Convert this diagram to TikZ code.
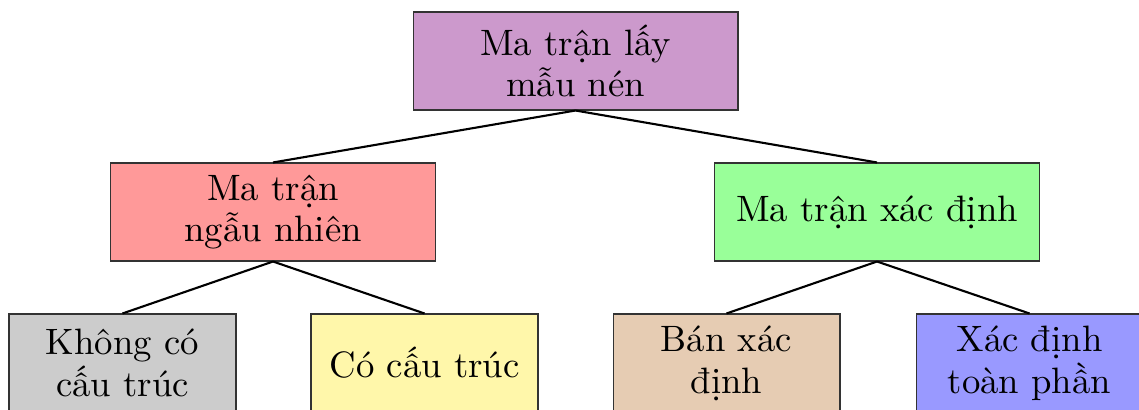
\documentclass[tikz,border=0pt]{standalone}
\usepackage{fontspec}
\usepackage{tikz}
\usepackage{xcolor}
\newfontfamily\chu{lmroman10-regular}[Extension=.otf]

\definecolor{tim}{HTML}{CC99CC}
\definecolor{hong}{HTML}{FF9999}
\definecolor{xanhla}{HTML}{99FF99}
\definecolor{xam}{HTML}{CCCCCC}
\definecolor{vang}{HTML}{FFF7AA}
\definecolor{nau}{HTML}{E6CCB3}
\definecolor{xanhduong}{HTML}{9999FF}

\begin{document}
\begin{tikzpicture}[x=0.02cm,y=-0.02cm,
    hop/.style={draw=black!80,line width=0.6pt,align=center,
        minimum width=6.5cm,minimum height=1.96cm,inner sep=0pt,
        font=\chu\fontsize{20.9}{23.8}\selectfont},
    hopnho/.style={hop,minimum width=4.54cm},
    noi/.style={line width=1.2pt}]
    \clip (0,0) rectangle (1139,409);
    \useasboundingbox (0,0) rectangle (1139,409);

    \node[hop,fill=tim] (goc) at (575.5,61) {Ma trận lấy\\mẫu nén};
    \node[hop,fill=hong] (ngaunhien) at (273,212) {Ma trận\\ngẫu nhiên};
    \node[hop,fill=xanhla] (xacdinh) at (877,212) {Ma trận xác định};

    \node[hopnho,fill=xam] (khong) at (122.5,363) {Không có\\cấu trúc};
    \node[hopnho,fill=vang] (cocau) at (424.5,363) {Có cấu trúc};
    \node[hopnho,fill=nau] (ban) at (726.5,363) {Bán xác\\định};
    \node[hopnho,fill=xanhduong] (toan) at (1029.5,363) {Xác định\\toàn phần};

    \draw[noi] (goc.south) -- (ngaunhien.north);
    \draw[noi] (goc.south) -- (xacdinh.north);
    \draw[noi] (ngaunhien.south) -- (khong.north);
    \draw[noi] (ngaunhien.south) -- (cocau.north);
    \draw[noi] (xacdinh.south) -- (ban.north);
    \draw[noi] (xacdinh.south) -- (toan.north);
\end{tikzpicture}
\end{document}
